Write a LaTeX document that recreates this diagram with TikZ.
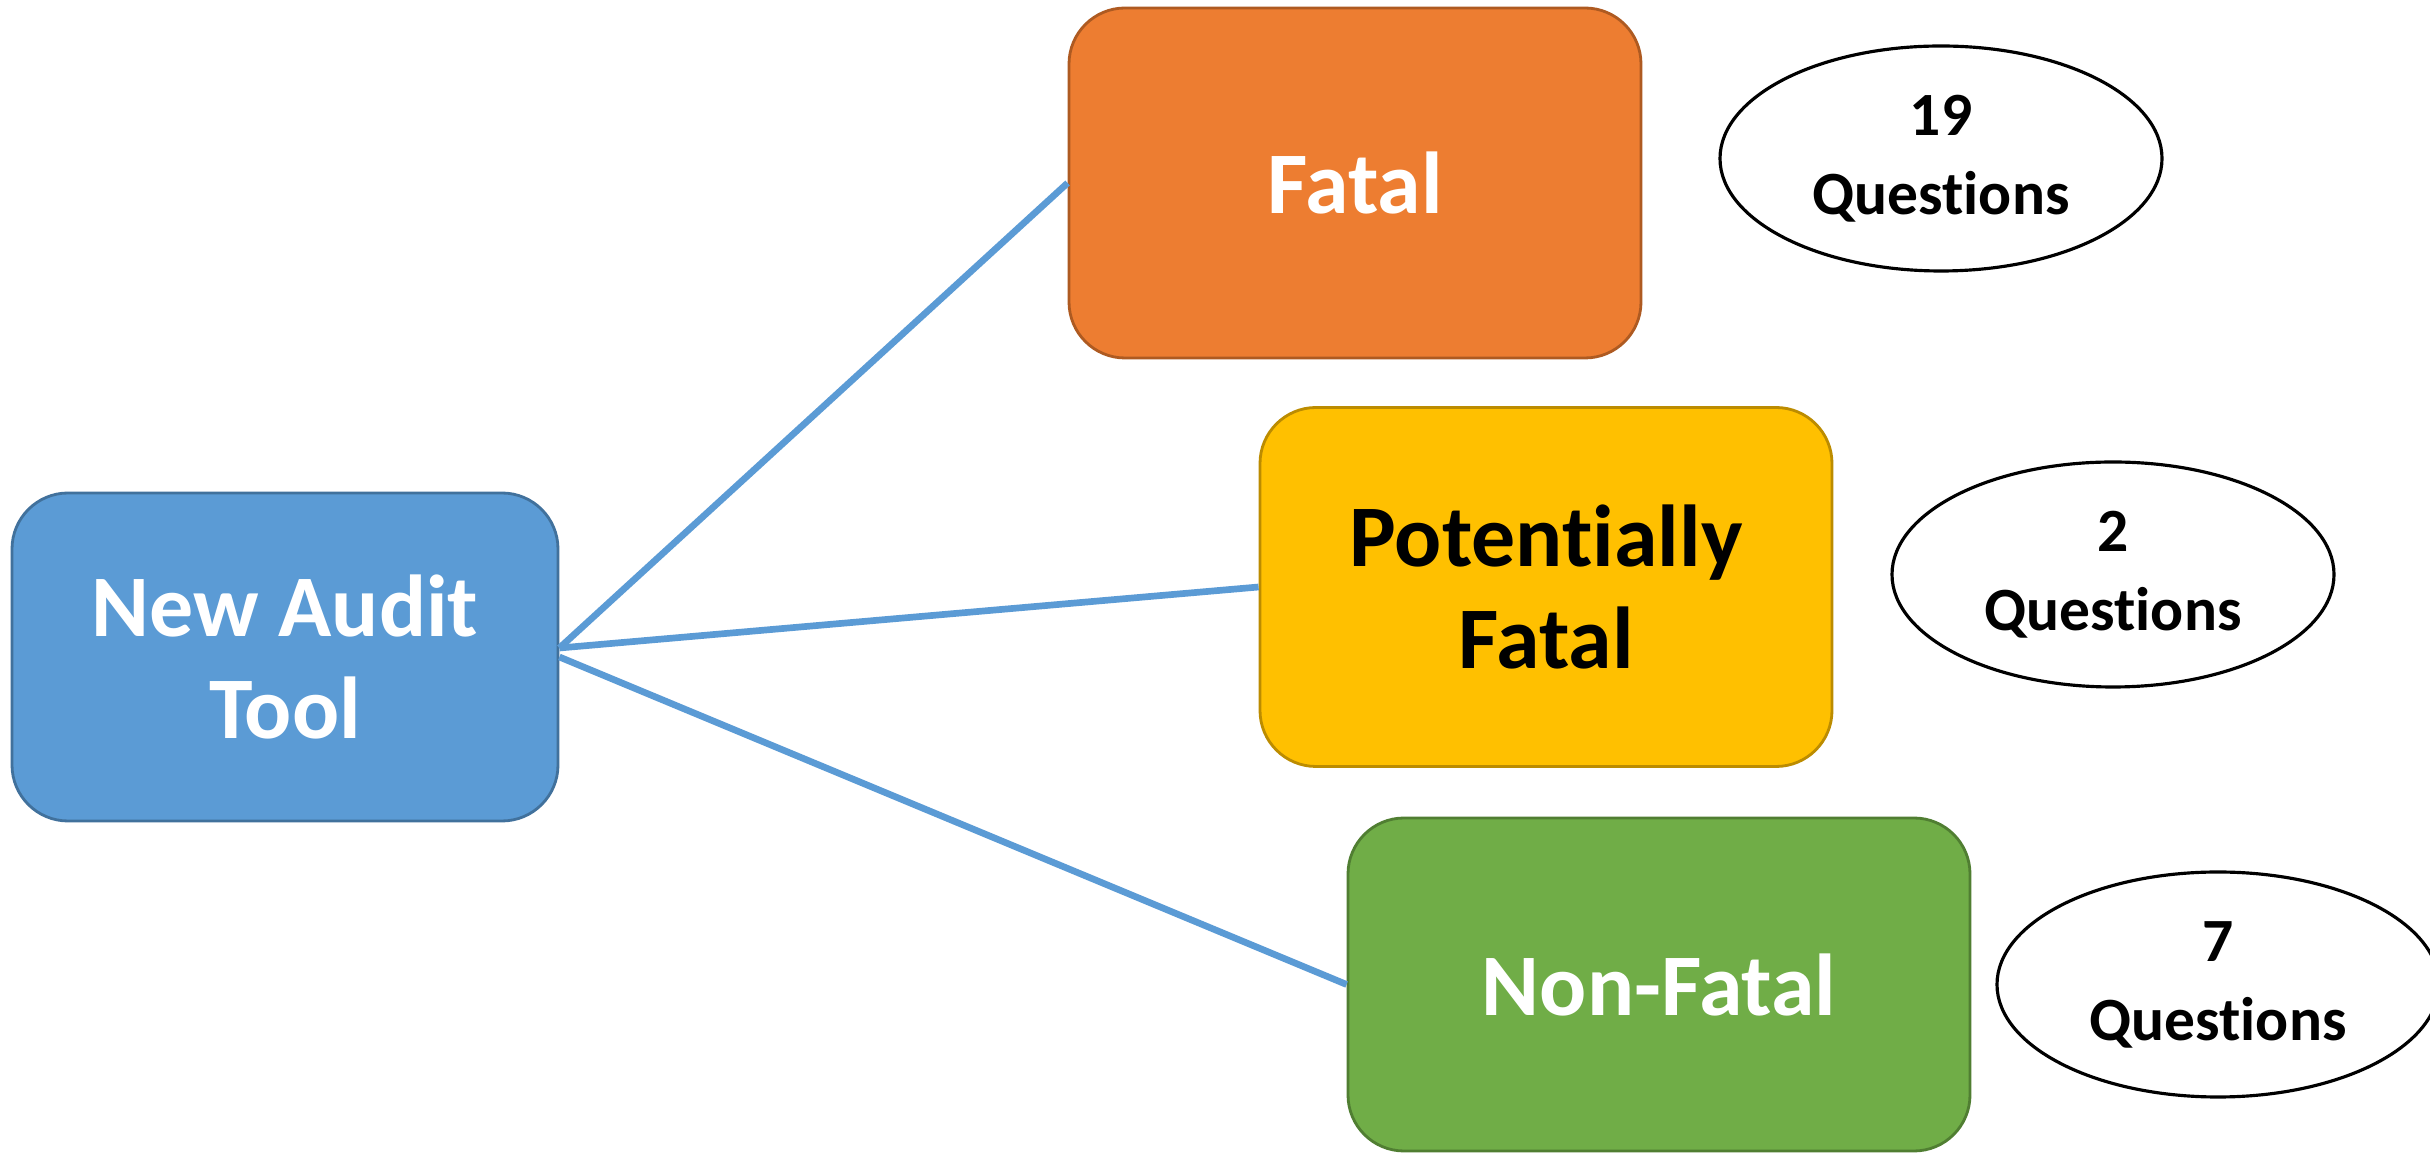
\documentclass[tikz,border=0pt]{standalone}
\usepackage{fontspec}
\setmainfont{Carlito}[Ligatures=NoCommon]
\usetikzlibrary{shapes.geometric}
\definecolor{cblue}{HTML}{5B9BD5}
\definecolor{cblueD}{HTML}{41719C}
\definecolor{corange}{HTML}{ED7D31}
\definecolor{corangeD}{HTML}{AE5A21}
\definecolor{cgold}{HTML}{FFC000}
\definecolor{cgoldD}{HTML}{BC8C00}
\definecolor{cgreen}{HTML}{70AD47}
\definecolor{cgreenD}{HTML}{507E32}
\tikzset{
  box/.style={rectangle, rounded corners=0.56cm, line width=0.8pt, inner sep=0pt, align=center,
    font=\fontsize{25}{29}\selectfont\bfseries},
  qell/.style={ellipse, draw=black, line width=0.9pt, fill=white, inner sep=0pt, align=center,
    minimum width=4.42cm, minimum height=2.25cm, font=\fontsize{17.5}{22.5}\selectfont\bfseries},
  conn/.style={draw=cblue, line width=1.9pt}
}
\begin{document}
\begin{tikzpicture}
\useasboundingbox (0,0) rectangle (24.30,-11.53);
\clip (0,0) rectangle (24.30,-11.53);
\fill[white] (0,0) rectangle (24.30,-11.53);
\node[box, fill=cblue, draw=cblueD, text=white, minimum width=5.46cm, minimum height=3.28cm] (nat) at (2.85,-6.57) {New Audit\\Tool};
\node[box, fill=corange, draw=corangeD, text=white, minimum width=5.72cm, minimum height=3.50cm] (fatal) at (13.55,-1.83) {Fatal};
\node[box, fill=cgold, draw=cgoldD, text=black, minimum width=5.72cm, minimum height=3.59cm] (pot) at (15.46,-5.87) {Potentially\\Fatal};
\node[box, fill=cgreen, draw=cgreenD, text=white, minimum width=6.22cm, minimum height=3.33cm] (non) at (16.59,-9.845) {Non-Fatal};
\node[qell] (q1) at (19.41,-1.585) {19\\Questions};
\node[qell] (q2) at (21.13,-5.745) {2\\Questions};
\node[qell] (q3) at (22.18,-9.845) {7\\Questions};
\draw[conn] ([yshift=0.09cm]nat.east) -- (fatal.west);
\draw[conn] ([yshift=0.09cm]nat.east) -- (pot.west);
\draw[conn] (nat.east) -- (non.west);
\end{tikzpicture}
\end{document}
